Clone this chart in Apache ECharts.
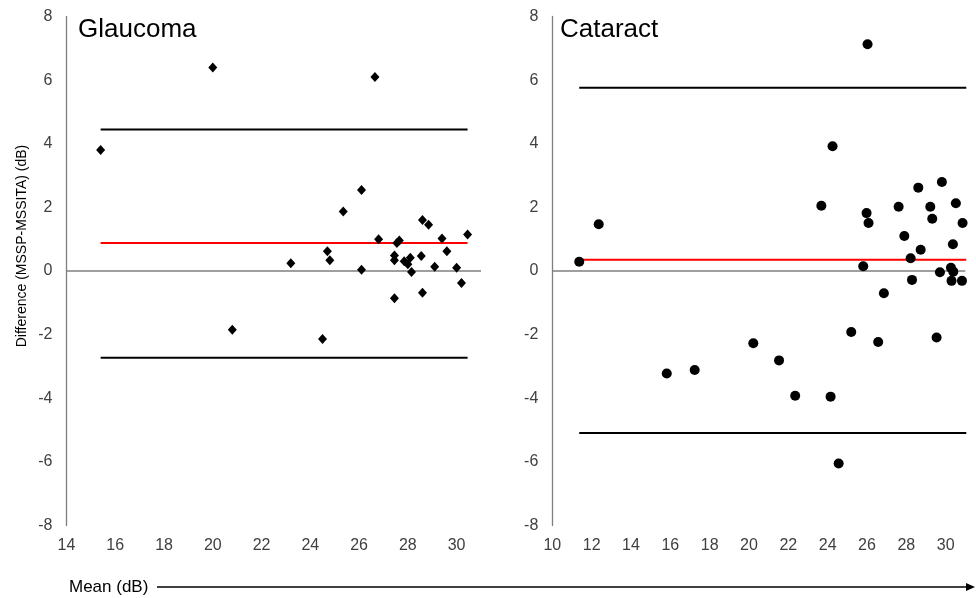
<!DOCTYPE html>
<html><head><meta charset="utf-8">
<script src="https://cdn.jsdelivr.net/npm/echarts@6/dist/echarts.min.js"></script>
<style>html,body{margin:0;padding:0;background:#fff}#c{width:976px;height:598px}</style>
</head><body><div id="c"></div>
<script>
// ---- Data ----
const panelTitles = ['Glaucoma', 'Cataract'];
const yAxisName = 'Difference (MSSP-MSSITA) (dB)';
const xAxisName = 'Mean (dB)';
const yRange = [-8, 8];
const glaucomaXRange = [14, 31];
const cataractXRange = [10, 31];

const glaucomaMean = [15.4, 20.0, 26.65, 26.1, 25.35, 28.6, 28.85, 30.45, 26.8, 27.65, 27.55, 29.4, 29.6, 24.7, 24.8, 23.2, 26.1, 27.45, 27.45, 27.85, 28.0, 28.1, 28.55, 28.15, 29.1, 30.0, 30.2, 28.6, 27.45, 20.8, 24.5];
const glaucomaDiff = [3.8, 6.4, 6.1, 2.55, 1.87, 1.6, 1.45, 1.15, 1.0, 0.96, 0.88, 1.02, 0.62, 0.62, 0.34, 0.24, 0.04, 0.49, 0.34, 0.31, 0.21, 0.42, 0.47, -0.03, 0.13, 0.10, -0.38, -0.68, -0.86, -1.85, -2.14];
const glaucomaLimits = [4.45, 0.88, -2.73];   // upper LoA, mean bias, lower LoA
const glaucomaLineSpan = [15.4, 30.45];

const cataractMean = [26.03, 24.25, 23.68, 12.36, 11.37, 25.98, 26.08, 25.81, 26.86, 27.61, 27.9, 28.61, 28.73, 28.22, 28.29, 29.22, 29.32, 29.81, 30.52, 30.86, 30.37, 29.71, 30.27, 30.39, 30.3, 30.83, 15.82, 17.24, 20.22, 21.53, 22.35, 24.15, 24.56, 25.2, 26.57, 29.54];
const cataractDiff = [7.13, 3.92, 2.05, 1.47, 0.29, 1.82, 1.51, 0.15, -0.70, 2.02, 1.10, 2.62, 0.67, 0.40, -0.28, 2.02, 1.64, 2.80, 2.13, 1.51, 0.84, -0.04, 0.10, -0.02, -0.31, -0.31, -3.22, -3.11, -2.27, -2.81, -3.92, -3.95, -6.05, -1.92, -2.23, -2.09];
const cataractLimits = [5.76, 0.35, -5.09];
const cataractLineSpan = [11.37, 31.05];

// ---- Build ----
const FONT = "'Liberation Sans', Arial, sans-serif";
const zip = (a, b) => a.map((v, i) => [v, b[i]]);
const limitColors = ['#000000', '#ff0000', '#000000'];

function limitSeries(idx, limits, span) {
  return limits.map((v, i) => ({
    type: 'line', xAxisIndex: idx, yAxisIndex: idx,
    data: [[span[0], v], [span[1], v]],
    symbol: 'none', silent: true,
    lineStyle: { color: limitColors[i], width: 2 }, z: 2
  }));
}
function zeroSeries(idx, range) {
  return {
    type: 'line', xAxisIndex: idx, yAxisIndex: idx,
    data: [[range[0], 0], [range[1], 0]],
    symbol: 'none', silent: true,
    lineStyle: { color: '#7f7f7f', width: 1.3 }, z: 1
  };
}
function xAxis(idx, range) {
  return {
    type: 'value', gridIndex: idx, min: range[0], max: range[1], interval: 2,
    axisLine: { show: false }, axisTick: { show: false }, splitLine: { show: false },
    axisLabel: { color: '#404040', fontSize: 16, fontFamily: FONT, margin: 12,
      formatter: v => (v % 2 === 0 ? String(v) : '') }
  };
}
function yAxis(idx) {
  return {
    type: 'value', gridIndex: idx, min: yRange[0], max: yRange[1], interval: 2,
    axisLine: { show: true, onZero: false, lineStyle: { color: '#7f7f7f', width: 1.3 } },
    axisTick: { show: false }, splitLine: { show: false },
    axisLabel: { color: '#404040', fontSize: 16, fontFamily: FONT, margin: 14 }
  };
}

const chart = echarts.init(document.getElementById('c'), null, { renderer: 'canvas' });
chart.setOption({
  animation: false,
  backgroundColor: '#ffffff',
  grid: [
    { left: 66.5, width: 414.5, top: 16.5, bottom: 72.5 },
    { left: 552.3, width: 413, top: 16.5, bottom: 72.5 }
  ],
  xAxis: [xAxis(0, glaucomaXRange), xAxis(1, cataractXRange)],
  yAxis: [yAxis(0), yAxis(1)],
  series: [
    zeroSeries(0, glaucomaXRange),
    zeroSeries(1, cataractXRange),
    ...limitSeries(0, glaucomaLimits, glaucomaLineSpan),
    ...limitSeries(1, cataractLimits, cataractLineSpan),
    { type: 'scatter', xAxisIndex: 0, yAxisIndex: 0, data: zip(glaucomaMean, glaucomaDiff),
      symbol: 'diamond', symbolSize: [9, 10], itemStyle: { color: '#000', opacity: 1 }, z: 5 },
    { type: 'scatter', xAxisIndex: 1, yAxisIndex: 1, data: zip(cataractMean, cataractDiff),
      symbol: 'circle', symbolSize: 10, itemStyle: { color: '#000', opacity: 1 }, z: 5 }
  ],
  graphic: [
    { type: 'text', left: 78, top: 17, style: { text: panelTitles[0], fill: '#000', font: '26px ' + FONT } },
    { type: 'text', left: 560, top: 17, style: { text: panelTitles[1], fill: '#000', font: '26px ' + FONT } },
    { type: 'text', x: 22, y: 246, rotation: Math.PI / 2,
      style: { text: yAxisName, fill: '#000', font: '14px ' + FONT, align: 'center', verticalAlign: 'middle' } },
    { type: 'text', x: 69, y: 587, style: { text: xAxisName, fill: '#000', font: '17px ' + FONT, verticalAlign: 'middle' } },
    { type: 'line', shape: { x1: 157, y1: 587, x2: 968, y2: 587 }, style: { stroke: '#000', lineWidth: 1.3 } },
    { type: 'polygon', shape: { points: [[975, 587], [966, 583], [966, 591]] }, style: { fill: '#000' } }
  ]
});
</script>
</body></html>
